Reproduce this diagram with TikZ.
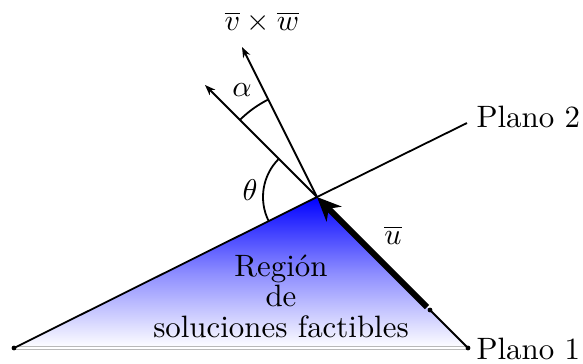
\documentclass[tikz,border=0pt]{standalone}
\usetikzlibrary{arrows.meta}
\begin{document}
\begin{tikzpicture}[x=0.3333pt,y=0.3333pt,
  thinline/.style={line width=0.6pt},
  vec/.style={line width=0.6pt,-{Stealth[length=3.5pt,width=2.6pt]}},
  dotmark/.style={circle,fill=black,inner sep=0pt,minimum size=1.6pt},
  lbl/.style={font=\fontsize{10.3}{12}\selectfont}]
\useasboundingbox (0,0) rectangle (583,363);
\coordinate (L) at (14,15);
\coordinate (A) at (317,166);
\coordinate (R) at (468,15);
\coordinate (P2) at (467,240);
\coordinate (N1) at (242,316);
\coordinate (N2) at (205,278);
\coordinate (U0) at (430,53);
\coordinate (U1) at (427,56);
% region
\shade[top color=blue,bottom color=white,middle color=blue!45] (L) -- (A) -- (R) -- cycle;
\draw[gray!55,double=white,double distance=0.5pt,line width=0.4pt] (L) -- (R);
\draw[thinline] (L) -- (A) -- (P2);
\draw[thinline] (R) -- (U0);
\draw[line width=2pt,-{Stealth[length=8pt,width=7pt,inset=2.5pt]}] (U1) -- (A);
\draw[vec] (A) -- (N1);
\draw[vec] (A) -- (N2);
% arcs
\draw[thinline] (A) ++(116.6:109) arc[start angle=116.6,end angle=135,radius=109];
\draw[thinline] (A) ++(206.5:54) arc[start angle=206.5,end angle=135,radius=54];
% dots
\node[dotmark] (dL) at (L) {};
\node[dotmark] (dR) at (R) {};
\node[dotmark] (dU) at (U0) {};
% labels
\node[lbl] (tvw) at (262,341) {$\overline{v}\times\overline{w}$};
\node[lbl] (talpha) at (242,273) {$\alpha$};
\node[lbl] (ttheta) at (250,173) {$\theta$};
\node[lbl] (tu) at (393,128) {$\overline{u}$};
\node[lbl,anchor=west] (tp2) at (466,246) {Plano 2};
\node[lbl,anchor=west] (tp1) at (466,14) {Plano 1};
\node[lbl,align=center] (treg) at (281,67) {Región\\[-1.8pt]de\\[-1.8pt]soluciones factibles};
\end{tikzpicture}
\end{document}
